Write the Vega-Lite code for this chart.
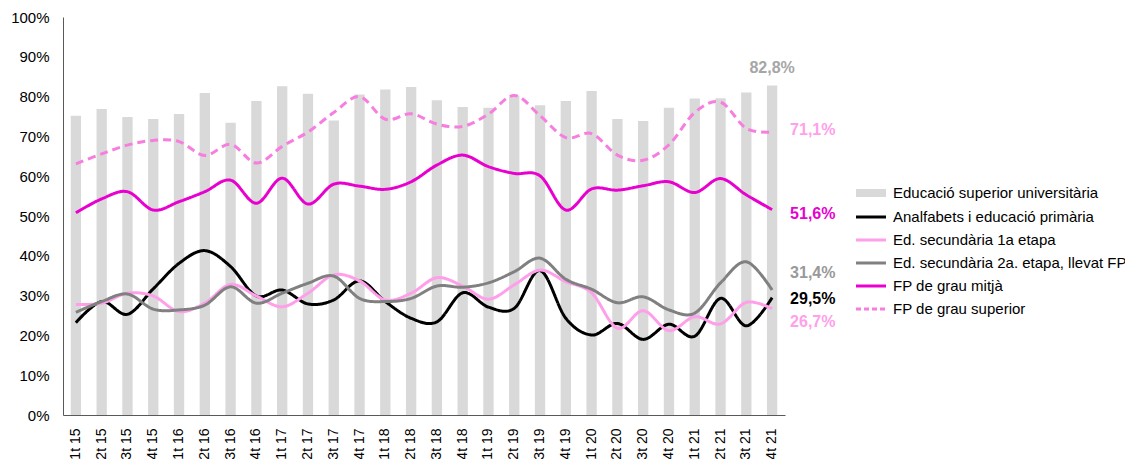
{
  "$schema": "https://vega.github.io/schema/vega-lite/v6.json",
  "width": 722,
  "height": 398,
  "autosize": {"type": "none"},
  "padding": {"left": 63, "top": 17, "right": 340, "bottom": 44},
  "background": "white",
  "config": {
    "view": {"stroke": null},
    "font": "Liberation Sans",
    "axis": {"labelFont": "Liberation Sans", "labelFontSize": 15, "labelColor": "#000000", "domainColor": "#595959", "domainWidth": 1, "ticks": false, "grid": false, "title": null},
    "legend": {"labelFont": "Liberation Sans"}
  },
  "datasets": {
    "d": [
      {"q":"1t 15","s":"Educació superior universitària","v":75.2},
      {"q":"2t 15","s":"Educació superior universitària","v":76.9},
      {"q":"3t 15","s":"Educació superior universitària","v":74.9},
      {"q":"4t 15","s":"Educació superior universitària","v":74.4},
      {"q":"1t 16","s":"Educació superior universitària","v":75.6},
      {"q":"2t 16","s":"Educació superior universitària","v":80.9},
      {"q":"3t 16","s":"Educació superior universitària","v":73.4},
      {"q":"4t 16","s":"Educació superior universitària","v":78.9},
      {"q":"1t 17","s":"Educació superior universitària","v":82.6},
      {"q":"2t 17","s":"Educació superior universitària","v":80.7},
      {"q":"3t 17","s":"Educació superior universitària","v":74.0},
      {"q":"4t 17","s":"Educació superior universitària","v":80.5},
      {"q":"1t 18","s":"Educació superior universitària","v":81.8},
      {"q":"2t 18","s":"Educació superior universitària","v":82.4},
      {"q":"3t 18","s":"Educació superior universitària","v":79.1},
      {"q":"4t 18","s":"Educació superior universitària","v":77.4},
      {"q":"1t 19","s":"Educació superior universitària","v":77.2},
      {"q":"2t 19","s":"Educació superior universitària","v":80.3},
      {"q":"3t 19","s":"Educació superior universitària","v":77.8},
      {"q":"4t 19","s":"Educació superior universitària","v":78.9},
      {"q":"1t 20","s":"Educació superior universitària","v":81.4},
      {"q":"2t 20","s":"Educació superior universitària","v":74.4},
      {"q":"3t 20","s":"Educació superior universitària","v":73.9},
      {"q":"4t 20","s":"Educació superior universitària","v":77.2},
      {"q":"1t 21","s":"Educació superior universitària","v":79.5},
      {"q":"2t 21","s":"Educació superior universitària","v":79.6},
      {"q":"3t 21","s":"Educació superior universitària","v":81.0},
      {"q":"4t 21","s":"Educació superior universitària","v":82.8,"l":"82,8%"},

      {"q":"1t 15","s":"Analfabets i educació primària","v":23.2},
      {"q":"2t 15","s":"Analfabets i educació primària","v":28.5},
      {"q":"3t 15","s":"Analfabets i educació primària","v":25.3},
      {"q":"4t 15","s":"Analfabets i educació primària","v":31.7},
      {"q":"1t 16","s":"Analfabets i educació primària","v":38.1},
      {"q":"2t 16","s":"Analfabets i educació primària","v":41.3},
      {"q":"3t 16","s":"Analfabets i educació primària","v":37.3},
      {"q":"4t 16","s":"Analfabets i educació primària","v":29.9},
      {"q":"1t 17","s":"Analfabets i educació primària","v":31.4},
      {"q":"2t 17","s":"Analfabets i educació primària","v":27.9},
      {"q":"3t 17","s":"Analfabets i educació primària","v":28.9},
      {"q":"4t 17","s":"Analfabets i educació primària","v":33.7},
      {"q":"1t 18","s":"Analfabets i educació primària","v":28.5},
      {"q":"2t 18","s":"Analfabets i educació primària","v":24.3},
      {"q":"3t 18","s":"Analfabets i educació primària","v":23.4},
      {"q":"4t 18","s":"Analfabets i educació primària","v":30.7},
      {"q":"1t 19","s":"Analfabets i educació primària","v":27.1},
      {"q":"2t 19","s":"Analfabets i educació primària","v":26.8},
      {"q":"3t 19","s":"Analfabets i educació primària","v":36.3},
      {"q":"4t 19","s":"Analfabets i educació primària","v":24.3},
      {"q":"1t 20","s":"Analfabets i educació primària","v":20.1},
      {"q":"2t 20","s":"Analfabets i educació primària","v":23.0},
      {"q":"3t 20","s":"Analfabets i educació primària","v":19.0},
      {"q":"4t 20","s":"Analfabets i educació primària","v":22.8},
      {"q":"1t 21","s":"Analfabets i educació primària","v":19.8},
      {"q":"2t 21","s":"Analfabets i educació primària","v":29.3},
      {"q":"3t 21","s":"Analfabets i educació primària","v":22.4},
      {"q":"4t 21","s":"Analfabets i educació primària","v":29.5,"l":"29,5%"},

      {"q":"1t 15","s":"Ed. secundària 1a etapa","v":27.8},
      {"q":"2t 15","s":"Ed. secundària 1a etapa","v":28.1},
      {"q":"3t 15","s":"Ed. secundària 1a etapa","v":30.6},
      {"q":"4t 15","s":"Ed. secundària 1a etapa","v":29.9},
      {"q":"1t 16","s":"Ed. secundària 1a etapa","v":26.0},
      {"q":"2t 16","s":"Ed. secundària 1a etapa","v":28.1},
      {"q":"3t 16","s":"Ed. secundària 1a etapa","v":32.8},
      {"q":"4t 16","s":"Ed. secundària 1a etapa","v":29.9},
      {"q":"1t 17","s":"Ed. secundària 1a etapa","v":27.2},
      {"q":"2t 17","s":"Ed. secundària 1a etapa","v":30.6},
      {"q":"3t 17","s":"Ed. secundària 1a etapa","v":35.2},
      {"q":"4t 17","s":"Ed. secundària 1a etapa","v":33.7},
      {"q":"1t 18","s":"Ed. secundària 1a etapa","v":28.9},
      {"q":"2t 18","s":"Ed. secundària 1a etapa","v":30.6},
      {"q":"3t 18","s":"Ed. secundària 1a etapa","v":34.5},
      {"q":"4t 18","s":"Ed. secundària 1a etapa","v":32.4},
      {"q":"1t 19","s":"Ed. secundària 1a etapa","v":29.1},
      {"q":"2t 19","s":"Ed. secundària 1a etapa","v":32.7},
      {"q":"3t 19","s":"Ed. secundària 1a etapa","v":36.4},
      {"q":"4t 19","s":"Ed. secundària 1a etapa","v":33.5},
      {"q":"1t 20","s":"Ed. secundària 1a etapa","v":30.7},
      {"q":"2t 20","s":"Ed. secundària 1a etapa","v":21.8},
      {"q":"3t 20","s":"Ed. secundària 1a etapa","v":26.2},
      {"q":"4t 20","s":"Ed. secundària 1a etapa","v":21.2},
      {"q":"1t 21","s":"Ed. secundària 1a etapa","v":24.7},
      {"q":"2t 21","s":"Ed. secundària 1a etapa","v":22.9},
      {"q":"3t 21","s":"Ed. secundària 1a etapa","v":28.3},
      {"q":"4t 21","s":"Ed. secundària 1a etapa","v":26.7,"l":"26,7%"},

      {"q":"1t 15","s":"Ed. secundària 2a. etapa, llevat FP","v":25.8},
      {"q":"2t 15","s":"Ed. secundària 2a. etapa, llevat FP","v":28.5},
      {"q":"3t 15","s":"Ed. secundària 2a. etapa, llevat FP","v":30.4},
      {"q":"4t 15","s":"Ed. secundària 2a. etapa, llevat FP","v":26.6},
      {"q":"1t 16","s":"Ed. secundària 2a. etapa, llevat FP","v":26.4},
      {"q":"2t 16","s":"Ed. secundària 2a. etapa, llevat FP","v":27.6},
      {"q":"3t 16","s":"Ed. secundària 2a. etapa, llevat FP","v":32.2},
      {"q":"4t 16","s":"Ed. secundària 2a. etapa, llevat FP","v":28.1},
      {"q":"1t 17","s":"Ed. secundària 2a. etapa, llevat FP","v":30.6},
      {"q":"2t 17","s":"Ed. secundària 2a. etapa, llevat FP","v":33.1},
      {"q":"3t 17","s":"Ed. secundària 2a. etapa, llevat FP","v":34.9},
      {"q":"4t 17","s":"Ed. secundària 2a. etapa, llevat FP","v":29.3},
      {"q":"1t 18","s":"Ed. secundària 2a. etapa, llevat FP","v":28.5},
      {"q":"2t 18","s":"Ed. secundària 2a. etapa, llevat FP","v":29.3},
      {"q":"3t 18","s":"Ed. secundària 2a. etapa, llevat FP","v":32.4},
      {"q":"4t 18","s":"Ed. secundària 2a. etapa, llevat FP","v":32.1},
      {"q":"1t 19","s":"Ed. secundària 2a. etapa, llevat FP","v":33.2},
      {"q":"2t 19","s":"Ed. secundària 2a. etapa, llevat FP","v":36.0},
      {"q":"3t 19","s":"Ed. secundària 2a. etapa, llevat FP","v":39.4},
      {"q":"4t 19","s":"Ed. secundària 2a. etapa, llevat FP","v":34.1},
      {"q":"1t 20","s":"Ed. secundària 2a. etapa, llevat FP","v":31.6},
      {"q":"2t 20","s":"Ed. secundària 2a. etapa, llevat FP","v":28.2},
      {"q":"3t 20","s":"Ed. secundària 2a. etapa, llevat FP","v":29.7},
      {"q":"4t 20","s":"Ed. secundària 2a. etapa, llevat FP","v":26.4},
      {"q":"1t 21","s":"Ed. secundària 2a. etapa, llevat FP","v":25.6},
      {"q":"2t 21","s":"Ed. secundària 2a. etapa, llevat FP","v":33.2},
      {"q":"3t 21","s":"Ed. secundària 2a. etapa, llevat FP","v":38.5},
      {"q":"4t 21","s":"Ed. secundària 2a. etapa, llevat FP","v":31.4,"l":"31,4%"},

      {"q":"1t 15","s":"FP de grau mitjà","v":50.8},
      {"q":"2t 15","s":"FP de grau mitjà","v":54.3},
      {"q":"3t 15","s":"FP de grau mitjà","v":56.1},
      {"q":"4t 15","s":"FP de grau mitjà","v":51.5},
      {"q":"1t 16","s":"FP de grau mitjà","v":53.6},
      {"q":"2t 16","s":"FP de grau mitjà","v":56.1},
      {"q":"3t 16","s":"FP de grau mitjà","v":59.0},
      {"q":"4t 16","s":"FP de grau mitjà","v":53.2},
      {"q":"1t 17","s":"FP de grau mitjà","v":59.5},
      {"q":"2t 17","s":"FP de grau mitjà","v":53.0},
      {"q":"3t 17","s":"FP de grau mitjà","v":58.0},
      {"q":"4t 17","s":"FP de grau mitjà","v":57.5},
      {"q":"1t 18","s":"FP de grau mitjà","v":56.7},
      {"q":"2t 18","s":"FP de grau mitjà","v":58.6},
      {"q":"3t 18","s":"FP de grau mitjà","v":62.8},
      {"q":"4t 18","s":"FP de grau mitjà","v":65.3},
      {"q":"1t 19","s":"FP de grau mitjà","v":62.4},
      {"q":"2t 19","s":"FP de grau mitjà","v":60.7},
      {"q":"3t 19","s":"FP de grau mitjà","v":60.1},
      {"q":"4t 19","s":"FP de grau mitjà","v":51.5},
      {"q":"1t 20","s":"FP de grau mitjà","v":56.8},
      {"q":"2t 20","s":"FP de grau mitjà","v":56.5},
      {"q":"3t 20","s":"FP de grau mitjà","v":57.6},
      {"q":"4t 20","s":"FP de grau mitjà","v":58.6},
      {"q":"1t 21","s":"FP de grau mitjà","v":55.9},
      {"q":"2t 21","s":"FP de grau mitjà","v":59.4},
      {"q":"3t 21","s":"FP de grau mitjà","v":55.3},
      {"q":"4t 21","s":"FP de grau mitjà","v":51.6,"l":"51,6%"},

      {"q":"1t 15","s":"FP de grau superior","v":63.1},
      {"q":"2t 15","s":"FP de grau superior","v":65.6},
      {"q":"3t 15","s":"FP de grau superior","v":67.8},
      {"q":"4t 15","s":"FP de grau superior","v":69.0},
      {"q":"1t 16","s":"FP de grau superior","v":68.7},
      {"q":"2t 16","s":"FP de grau superior","v":65.2},
      {"q":"3t 16","s":"FP de grau superior","v":68.0},
      {"q":"4t 16","s":"FP de grau superior","v":63.3},
      {"q":"1t 17","s":"FP de grau superior","v":67.5},
      {"q":"2t 17","s":"FP de grau superior","v":71.1},
      {"q":"3t 17","s":"FP de grau superior","v":76.0},
      {"q":"4t 17","s":"FP de grau superior","v":80.0},
      {"q":"1t 18","s":"FP de grau superior","v":74.3},
      {"q":"2t 18","s":"FP de grau superior","v":75.7},
      {"q":"3t 18","s":"FP de grau superior","v":73.1},
      {"q":"4t 18","s":"FP de grau superior","v":72.5},
      {"q":"1t 19","s":"FP de grau superior","v":75.6},
      {"q":"2t 19","s":"FP de grau superior","v":80.3},
      {"q":"3t 19","s":"FP de grau superior","v":75.2},
      {"q":"4t 19","s":"FP de grau superior","v":69.7},
      {"q":"1t 20","s":"FP de grau superior","v":70.7},
      {"q":"2t 20","s":"FP de grau superior","v":65.3},
      {"q":"3t 20","s":"FP de grau superior","v":64.0},
      {"q":"4t 20","s":"FP de grau superior","v":67.9},
      {"q":"1t 21","s":"FP de grau superior","v":76.0},
      {"q":"2t 21","s":"FP de grau superior","v":78.6},
      {"q":"3t 21","s":"FP de grau superior","v":72.0},
      {"q":"4t 21","s":"FP de grau superior","v":71.1,"l":"71,1%"}
    ]
  },
  "data": {"name": "d"},
  "encoding": {
    "x": {
      "field": "q", "type": "ordinal", "sort": null,
      "scale": {"domain": ["1t 15","2t 15","3t 15","4t 15","1t 16","2t 16","3t 16","4t 16","1t 17","2t 17","3t 17","4t 17","1t 18","2t 18","3t 18","4t 18","1t 19","2t 19","3t 19","4t 19","1t 20","2t 20","3t 20","4t 20","1t 21","2t 21","3t 21","4t 21"], "paddingInner": 0.6, "paddingOuter": 0.3},
      "axis": {"labelAngle": -90, "labelAlign": "right", "labelBaseline": "middle", "labelPadding": 13, "labelFontSize": 14, "ticks": false}
    },
    "y": {
      "field": "v", "type": "quantitative",
      "scale": {"domain": [0, 100], "nice": false, "zero": true},
      "axis": {"values": [0,10,20,30,40,50,60,70,80,90,100], "labelExpr": "datum.value + '%'", "labelPadding": 14, "ticks": false, "grid": false}
    }
  },
  "layer": [
    {
      "transform": [{"filter": "datum.s === 'Educació superior universitària'"}],
      "mark": {"type": "bar"},
      "encoding": {
        "color": {
          "field": "s", "type": "nominal",
          "scale": {
            "domain": ["Educació superior universitària","Analfabets i educació primària","Ed. secundària 1a etapa","Ed. secundària 2a. etapa, llevat FP","FP de grau mitjà","FP de grau superior"],
            "range": ["#d9d9d9","#000000","#ff9fea","#808080","#e800cf","#f77ddf"]
          },
          "legend": {
            "orient": "none", "legendX": 793, "legendY": 161, "title": null,
            "symbolType": "stroke", "symbolSize": 710, "symbolStrokeWidth": 3,
            "labelFontSize": 15, "labelColor": "#000000", "labelOffset": 7, "labelLimit": 400,
            "rowPadding": 0, "padding": 0,
            "encode": {
              "symbols": {
                "update": {
                  "shape": {"signal": "datum.value === 'Educació superior universitària' ? 'M-1.013,-0.1875H1.013V0.1875H-1.013Z' : 'M-1.125,0H1.125'"},
                  "fill": {"signal": "datum.value === 'Educació superior universitària' ? '#d9d9d9' : 'transparent'"},
                  "stroke": {"scale": "color", "field": "value"},
                  "strokeDash": {"signal": "datum.value === 'FP de grau superior' ? [5,3] : [1,0]"}
                }
              }
            }
          }
        }
      }
    },
    {
      "transform": [{"filter": "datum.s !== 'Educació superior universitària'"}],
      "mark": {"type": "line", "interpolate": "cardinal", "strokeWidth": 3},
      "encoding": {
        "color": {"field": "s", "type": "nominal"},
        "strokeDash": {
          "field": "s", "type": "nominal",
          "scale": {"domain": ["Analfabets i educació primària","Ed. secundària 1a etapa","Ed. secundària 2a. etapa, llevat FP","FP de grau mitjà","FP de grau superior"], "range": [[1,0],[1,0],[1,0],[1,0],[8,5]]},
          "legend": null
        }
      }
    },
    {
      "transform": [{"filter": "datum.l && datum.s === 'Educació superior universitària'"}],
      "mark": {"type": "text", "align": "center", "baseline": "middle", "dy": -17, "fontSize": 16, "fontWeight": "bold", "color": "#a6a6a6"},
      "encoding": {"text": {"field": "l"}}
    },
    {
      "transform": [{"filter": "datum.l && datum.s === 'FP de grau superior'"}],
      "mark": {"type": "text", "align": "left", "baseline": "middle", "dx": 18, "dy": -2, "fontSize": 16, "fontWeight": "bold", "color": "#ffa0ea"},
      "encoding": {"text": {"field": "l"}}
    },
    {
      "transform": [{"filter": "datum.l && datum.s === 'FP de grau mitjà'"}],
      "mark": {"type": "text", "align": "left", "baseline": "middle", "dx": 18, "dy": 4, "fontSize": 16, "fontWeight": "bold", "color": "#e800cf"},
      "encoding": {"text": {"field": "l"}}
    },
    {
      "transform": [{"filter": "datum.l && datum.s === 'Ed. secundària 2a. etapa, llevat FP'"}],
      "mark": {"type": "text", "align": "left", "baseline": "middle", "dx": 18, "dy": -17, "fontSize": 16, "fontWeight": "bold", "color": "#999999"},
      "encoding": {"text": {"field": "l"}}
    },
    {
      "transform": [{"filter": "datum.l && datum.s === 'Analfabets i educació primària'"}],
      "mark": {"type": "text", "align": "left", "baseline": "middle", "dx": 18, "dy": 1, "fontSize": 16, "fontWeight": "bold", "color": "#000000"},
      "encoding": {"text": {"field": "l"}}
    },
    {
      "transform": [{"filter": "datum.l && datum.s === 'Ed. secundària 1a etapa'"}],
      "mark": {"type": "text", "align": "left", "baseline": "middle", "dx": 18, "dy": 13, "fontSize": 16, "fontWeight": "bold", "color": "#ffa0ea"},
      "encoding": {"text": {"field": "l"}}
    }
  ]
}
